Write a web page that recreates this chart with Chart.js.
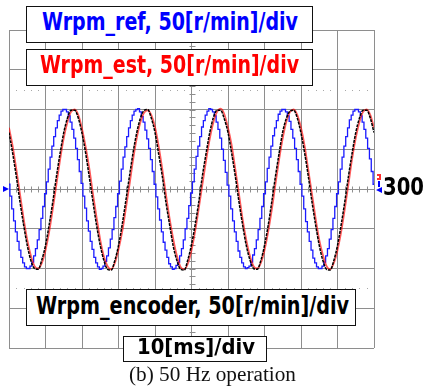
<!DOCTYPE html>
<html>
<head>
<meta charset="utf-8">
<script src="https://cdn.jsdelivr.net/npm/chart.js@4.4.1/dist/chart.umd.min.js"></script>
<style>
  body { margin: 0; background: #fff; }
  #wrap { position: relative; width: 423px; height: 388px; overflow: hidden; }
  #scope { position: absolute; left: 0; top: 0; }
  .box { position: absolute; box-sizing: border-box; background: #fff; border: 1.5px solid #111; }
  .lbl { position: absolute; white-space: nowrap; line-height: 1; font-family: "DejaVu Sans", Verdana, sans-serif; font-weight: bold; transform-origin: 0 0; }
  .cap { position: absolute; white-space: nowrap; line-height: 1; font-family: "Liberation Serif", "Times New Roman", serif; transform-origin: 0 0; color: #111; }
</style>
</head>
<body>
<div id="wrap">
  <canvas id="scope" width="423" height="388"></canvas>
  <div class="box" style="left:26px;top:6px;width:287px;height:37px"></div>
  <div class="box" style="left:26px;top:49px;width:287px;height:37px"></div>
  <div class="box" style="left:26px;top:289px;width:330px;height:37px"></div>
  <div class="box" style="left:123px;top:336px;width:144px;height:26px"></div>
  <span class="lbl" id="lblRef" style="color:#0000ff">Wrpm_ref, 50[r/min]/div</span>
  <span class="lbl" id="lblEst" style="color:#ff0000">Wrpm_est, 50[r/min]/div</span>
  <span class="lbl" id="lblEnc" style="color:#000">Wrpm_encoder, 50[r/min]/div</span>
  <span class="lbl" id="lblTime" style="color:#000">10[ms]/div</span>
  <span class="lbl" id="lblZero" style="color:#000">300</span>
  <span class="cap" id="caption">(b) 50 Hz operation</span>
</div>
<script>
// sample spacing of the traces (ms)
const refStepMs = 0.5;
const traceStepMs = 1;

// speed reference [r/min], stair-stepped, 0.5 ms samples, 0..100 ms
const wrpmRef = [
  306,291,275,260,246,234,223,214,207,202,200,200,203,208,216,225,236,249,263,278,
  294,309,325,340,354,366,377,386,393,398,400,400,397,392,384,375,364,351,337,322,
  307,291,276,260,247,234,224,214,207,202,199,200,203,209,216,226,237,249,264,278,
  294,310,325,340,353,366,377,386,393,398,400,401,397,391,384,374,363,351,337,322,
  306,290,275,261,246,233,223,214,206,202,199,200,204,208,216,225,236,250,263,279,
  295,309,325,341,354,366,378,386,393,398,401,400,397,392,384,375,364,350,336,321,
  305,291,275,260,246,234,222,214,207,202,200,201,203,208,217,225,236,249,263,278,
  294,309,326,340,354,367,377,386,394,398,400,400,397,392,385,375,364,351,337,322,
  306,291,275,259,246,234,223,213,207,202,200,200,203,208,216,225,237,249,263,278,
  294,309,325,340,354,366,377,387,393,398,400,400,397,392,384,375,364,351,338,322,
  306
];

// estimated speed [r/min], 1 ms samples
const wrpmEst = [
  377,354,325,294,263,236,216,203,200,207,223,246,275,306,337,364,384,397,400,393,
  376,353,326,294,264,236,215,203,199,207,224,246,275,305,337,364,384,396,399,393,
  378,354,325,293,263,237,216,202,199,206,223,247,276,306,336,363,384,397,401,394,
  377,355,325,294,262,236,216,203,200,207,223,246,274,306,337,364,385,397,400,393,
  377,354,324,294,263,236,217,203,199,207,223,246,275,306,338,364,384,397,400,393,
  377
];

// encoder speed [r/min], 1 ms samples
const wrpmEncoder = [
  371,345,316,284,255,229,210,200,199,211,229,255,284,316,345,371,389,399,399,389,
  370,345,315,284,254,229,210,199,198,210,229,255,285,316,346,371,389,399,400,389,
  371,344,316,283,255,228,210,199,198,211,230,255,284,317,345,371,390,399,399,388,
  371,345,316,284,255,229,211,200,199,210,229,254,284,316,345,372,389,398,399,389,
  370,345,316,284,255,229,210,199,198,210,229,255,284,316,345,371,389,399,399,389,
  371
];

const timeRangeMs = [0, 100];
const speedRange = [100, 500];
const centerSpeed = 300;

function toPoints(values, step) {
  return values.map((v, i) => ({ x: i * step, y: v }));
}

const gridGrey = '#8e8e8e';

// oscilloscope centre ticks, dotted cursor lines and channel markers
const scopeMarks = {
  id: 'scopeMarks',
  beforeDatasetsDraw(chart) {
    const ctx = chart.ctx;
    const xs = chart.scales.x, ys = chart.scales.y;
    const cx = Math.round(xs.getPixelForValue(50)) + 0.5;
    const cy = Math.round(ys.getPixelForValue(centerSpeed)) + 0.5;
    ctx.save();
    ctx.strokeStyle = gridGrey;
    ctx.lineWidth = 1;
    ctx.beginPath();
    for (let t = 0; t <= 100; t += 2) {
      const px = Math.round(xs.getPixelForValue(t)) + 0.5;
      ctx.moveTo(px, cy - 3);
      ctx.lineTo(px, cy + 3);
    }
    for (let v = 100; v <= 500; v += 10) {
      const py = Math.round(ys.getPixelForValue(v)) + 0.5;
      ctx.moveTo(cx - 3, py);
      ctx.lineTo(cx + 3, py);
    }
    ctx.stroke();
    ctx.fillStyle = '#a8a8a8';
    [425, 175].forEach(function (v) {
      const py = Math.round(ys.getPixelForValue(v));
      for (let t = 2; t < 100; t += 2) {
        if (t % 10 === 0) continue;
        ctx.fillRect(Math.round(xs.getPixelForValue(t)), py, 1, 1);
      }
    });
    ctx.restore();
  },
  afterDraw(chart) {
    const ctx = chart.ctx;
    const cy = chart.scales.y.getPixelForValue(centerSpeed);
    ctx.save();
    ctx.fillStyle = '#0000ff';
    ctx.beginPath();
    ctx.moveTo(3, cy - 3);
    ctx.lineTo(9, cy);
    ctx.lineTo(3, cy + 3);
    ctx.fill();
    ctx.beginPath();
    ctx.moveTo(382, cy - 2);
    ctx.lineTo(376, cy + 1);
    ctx.lineTo(382, cy + 4);
    ctx.fill();
    ctx.fillRect(378, cy - 8, 2, 6);
    ctx.fillStyle = '#ff3030';
    ctx.fillRect(377, cy - 15, 4, 2);
    ctx.fillRect(379, cy - 13, 2, 2);
    ctx.fillRect(377, cy - 11, 4, 2);
    ctx.restore();
  }
};

new Chart(document.getElementById('scope'), {
  type: 'line',
  data: {
    datasets: [
      {
        label: 'Wrpm_encoder',
        data: toPoints(wrpmEncoder, traceStepMs),
        borderColor: '#000',
        borderWidth: 1.5,
        borderDash: [3, 1],
        pointRadius: 0,
        cubicInterpolationMode: 'monotone'
      },
      {
        label: 'Wrpm_est',
        data: toPoints(wrpmEst, traceStepMs),
        borderColor: 'rgba(255,0,0,0.65)',
        borderWidth: 1.8,
        pointRadius: 0,
        cubicInterpolationMode: 'monotone'
      },
      {
        label: 'Wrpm_ref',
        data: toPoints(wrpmRef, refStepMs),
        borderColor: '#1a1aff',
        borderWidth: 1.3,
        pointRadius: 0,
        stepped: 'middle'
      }
    ]
  },
  options: {
    responsive: false,
    animation: false,
    events: [],
    layout: { padding: { left: 9, right: 49, top: 30, bottom: 40 } },
    plugins: { legend: { display: false }, tooltip: { enabled: false } },
    scales: {
      x: {
        type: 'linear',
        min: timeRangeMs[0],
        max: timeRangeMs[1],
        ticks: { display: false, stepSize: 10 },
        grid: { color: gridGrey, lineWidth: 1, drawTicks: false },
        border: { display: false }
      },
      y: {
        min: speedRange[0],
        max: speedRange[1],
        ticks: { display: false, stepSize: 50 },
        grid: { color: gridGrey, lineWidth: 1, drawTicks: false },
        border: { display: false }
      }
    }
  },
  plugins: [scopeMarks]
});

// place the labels: left edge, right edge, baseline, font size
function place(id, left, right, baseline, size, k) {
  const el = document.getElementById(id);
  el.style.fontSize = size + 'px';
  el.style.left = left + 'px';
  el.style.top = (baseline - k * size) + 'px';
  const w = el.getBoundingClientRect().width;
  el.style.transform = 'scaleX(' + ((right - left) / w) + ')';
}
place('lblRef', 42, 298, 31, 25, 0.87);
place('lblEst', 40, 299, 74, 25, 0.87);
place('lblEnc', 36, 349, 315, 24, 0.87);
place('lblTime', 137, 255, 355, 21, 0.87);
place('lblZero', 383, 424, 196, 24, 0.87);
place('caption', 129, 296, 381, 20, 0.85);
</script>
</body>
</html>
